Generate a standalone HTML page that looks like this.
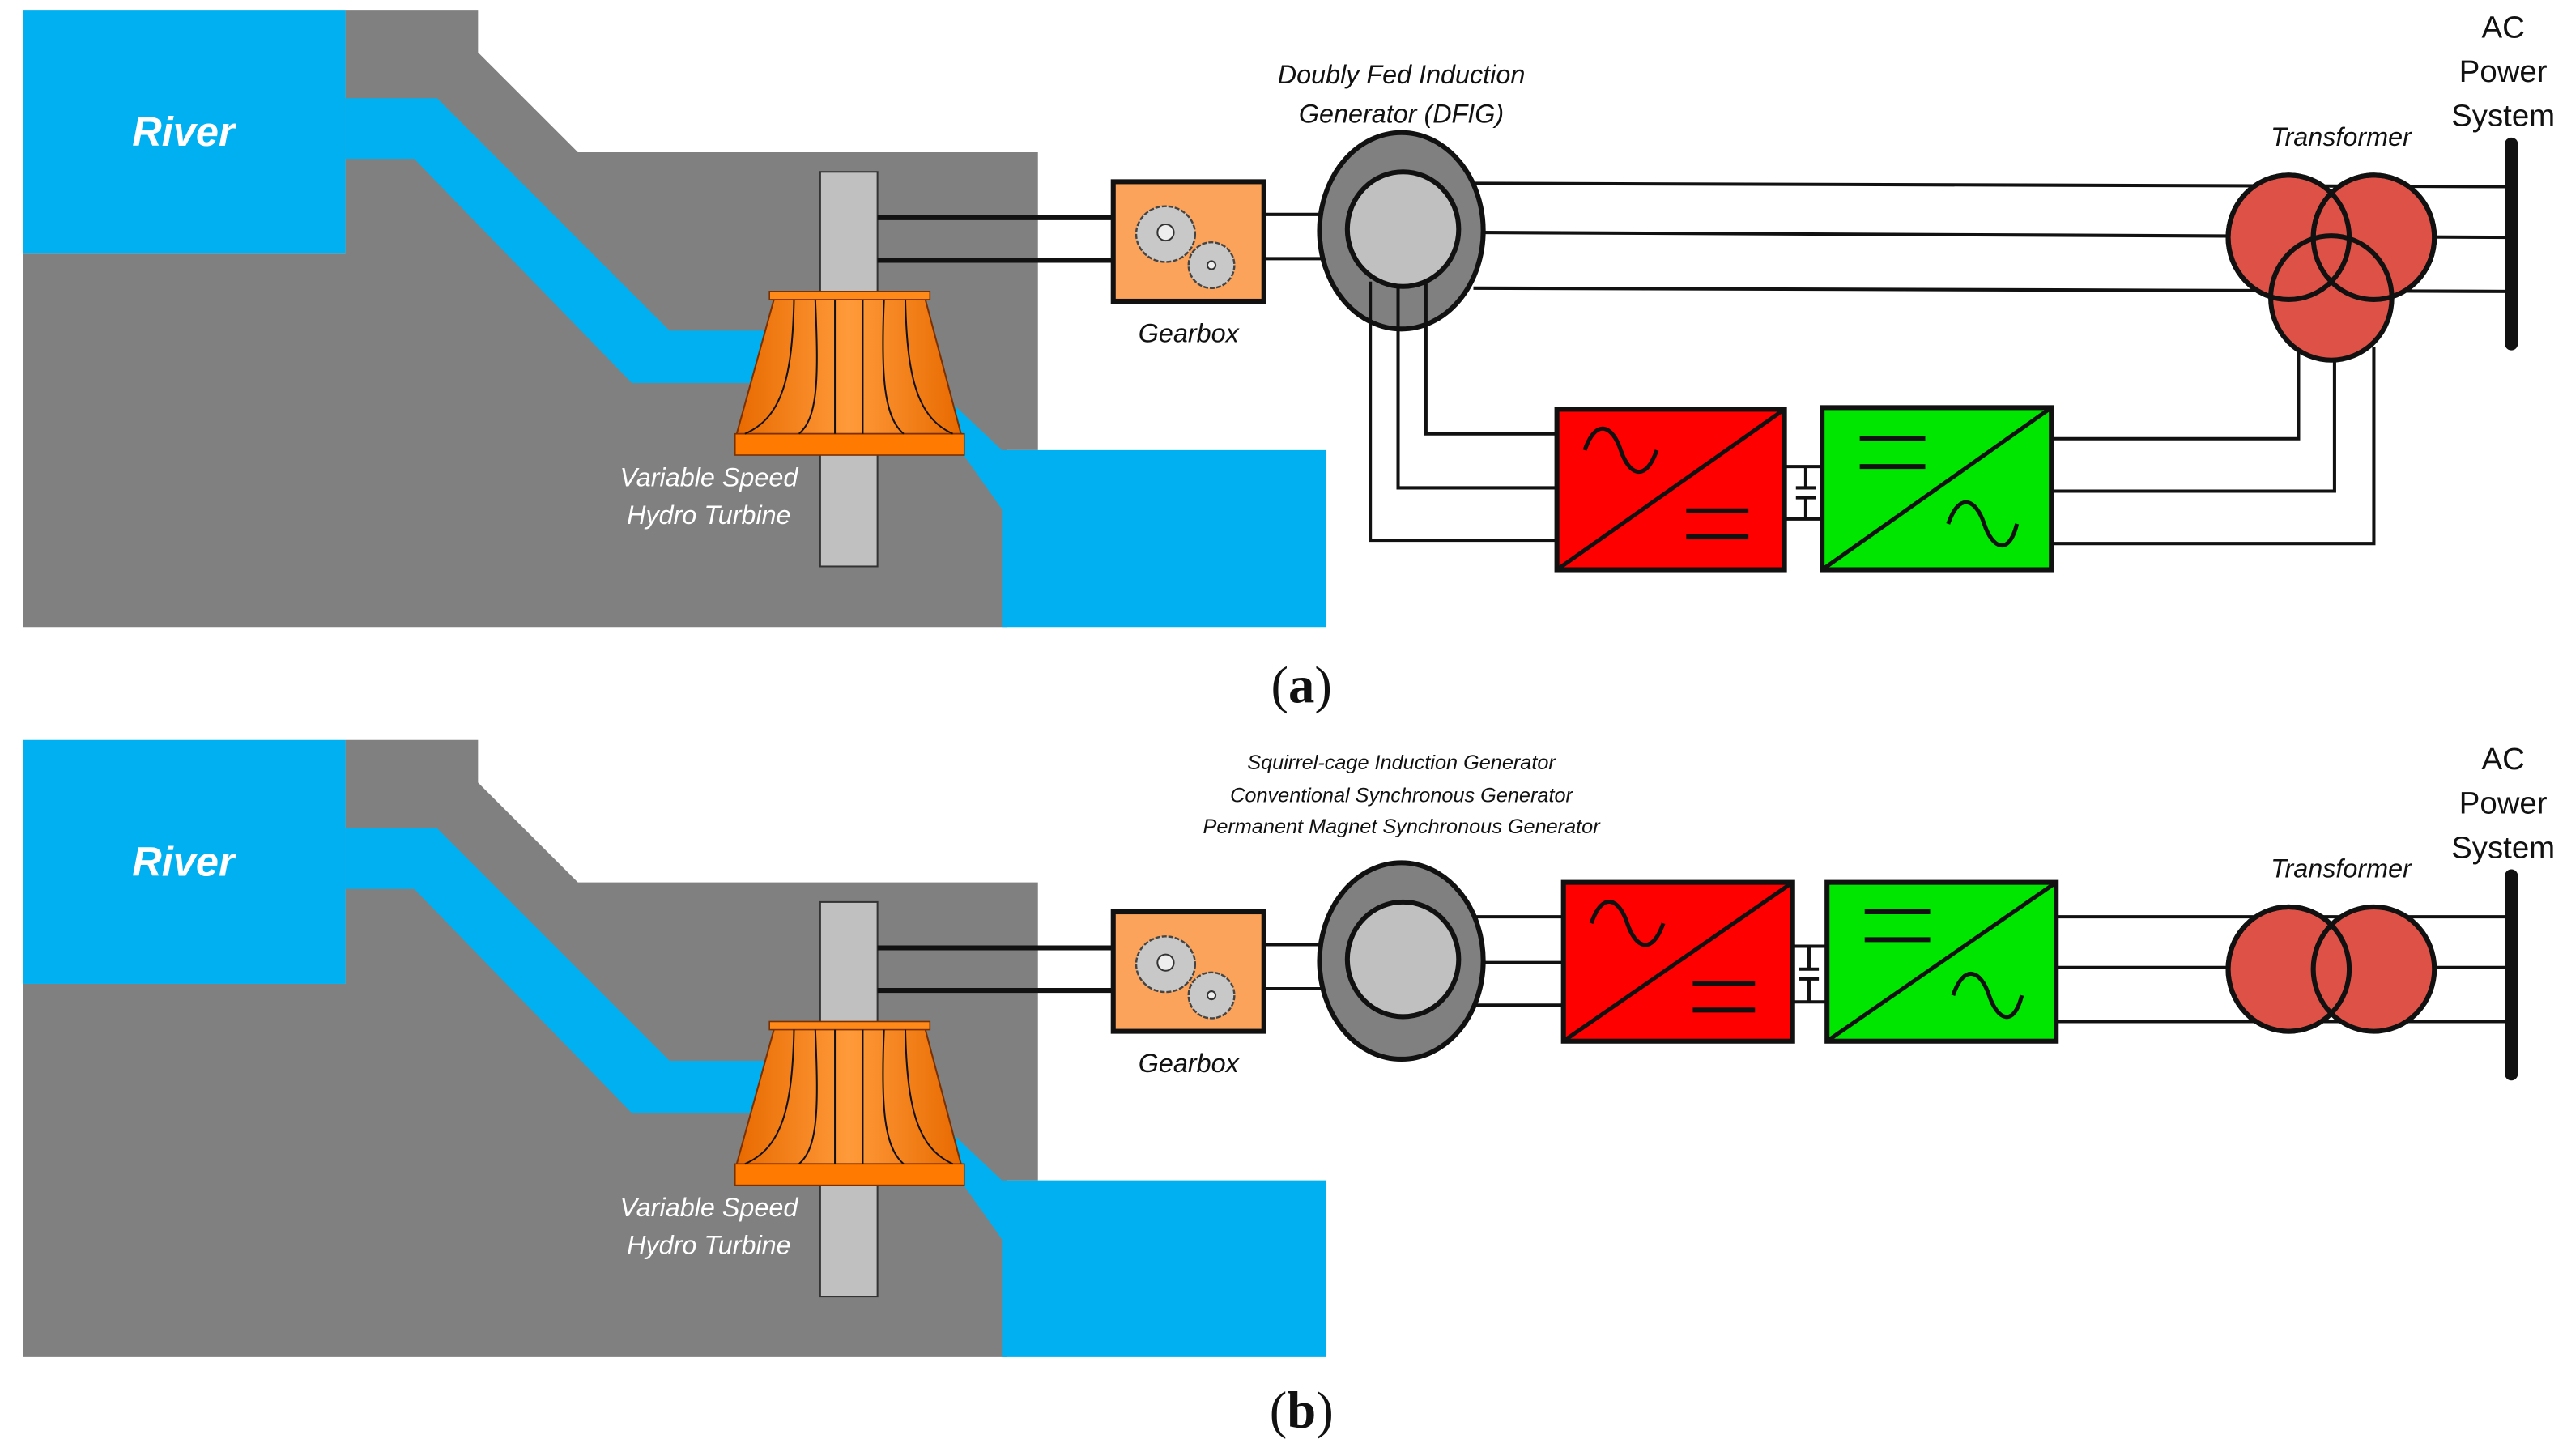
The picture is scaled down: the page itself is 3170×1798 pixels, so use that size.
<!DOCTYPE html>
<html><head><meta charset="utf-8"><style>
html,body{margin:0;padding:0;background:#fff;}
svg{display:block;}
.s{font-family:"Liberation Sans",sans-serif;}
.r{font-family:"Liberation Serif",serif;}
</style></head><body>
<svg width="3170" height="1798" viewBox="0 0 1568 889.4" preserveAspectRatio="none" xmlns="http://www.w3.org/2000/svg">
<defs>
<linearGradient id="og" x1="0" x2="1">
<stop offset="0" stop-color="#e86a00"/><stop offset="0.5" stop-color="#ff9a3a"/><stop offset="1" stop-color="#e86a00"/>
</linearGradient>
<g id="hydro">
<polygon points="211,6 292,6 292,32 353,93 634,93 634,275 615,275 615,383 14,383 14,155 211,155" fill="#808080"/>
<rect x="14" y="6" width="197" height="149" fill="#00b0f0"/>
<polygon points="211,60 267,60 409,202 480,202 480,234 386,234 253,97 211,97" fill="#00b0f0"/>
<polygon points="575,240 612,275 810,275 810,383 612,383 612,311 583,270" fill="#00b0f0"/>
<rect x="501" y="105" width="35" height="241" fill="#c0c0c0" stroke="#333" stroke-width="1"/>
<line x1="536" y1="133" x2="680" y2="133" stroke="#111" stroke-width="3"/>
<line x1="536" y1="159" x2="680" y2="159" stroke="#111" stroke-width="3"/>
<polygon points="473,182 565,182 587,265 450,265" fill="url(#og)" stroke="#7a3000" stroke-width="1"/>
<rect x="470" y="178" width="98" height="5" fill="#ff8a1a" stroke="#7a3000" stroke-width="0.8"/>
<rect x="449" y="265" width="140" height="13" fill="#ff7a00" stroke="#7a3000" stroke-width="0.8"/>
<g fill="none" stroke="#111" stroke-width="1">
<path d="M485,183 C484,230 478,255 455,265"/>
<path d="M498,183 C500,230 500,255 488,265"/>
<path d="M510,183 L510,265"/>
<path d="M527,183 L527,265"/>
<path d="M540,183 C538,230 540,255 552,265"/>
<path d="M553,183 C554,230 560,255 582,265"/>
</g>
<rect x="680" y="111" width="92" height="73" fill="#fba35a" stroke="#111" stroke-width="3"/>
<ellipse cx="712" cy="143" rx="18" ry="17" fill="#c8c8c8" stroke="#444" stroke-width="1.2" stroke-dasharray="3,1"/>
<circle cx="712" cy="142" r="5" fill="#eee" stroke="#333"/>
<ellipse cx="740" cy="162" rx="14" ry="14" fill="#c8c8c8" stroke="#444" stroke-width="1.2" stroke-dasharray="3,1"/>
<circle cx="740" cy="162" r="2.5" fill="#eee" stroke="#333"/>
<line x1="772" y1="131" x2="825" y2="131" stroke="#111" stroke-width="2"/>
<line x1="772" y1="158" x2="825" y2="158" stroke="#111" stroke-width="2"/>
</g>
</defs>

<!-- Panel a -->
<use href="#hydro"/>
<g class="s">
<text x="112" y="89" font-size="25" font-weight="bold" font-style="italic" fill="#fff" text-anchor="middle">River</text>
<text x="433" y="297" font-size="16" font-style="italic" fill="#fff" text-anchor="middle">Variable Speed</text>
<text x="433" y="320" font-size="16" font-style="italic" fill="#fff" text-anchor="middle">Hydro Turbine</text>
<text x="726" y="209" font-size="16" font-style="italic" fill="#111" text-anchor="middle">Gearbox</text>
<text x="856" y="51" font-size="16" font-style="italic" fill="#111" text-anchor="middle">Doubly Fed Induction</text>
<text x="856" y="75" font-size="16" font-style="italic" fill="#111" text-anchor="middle">Generator (DFIG)</text>
<text x="1430" y="89" font-size="16" font-style="italic" fill="#111" text-anchor="middle">Transformer</text>
<text x="1529" y="23" font-size="19" fill="#111" text-anchor="middle">AC</text>
<text x="1529" y="50" font-size="19" fill="#111" text-anchor="middle">Power</text>
<text x="1529" y="77" font-size="19" fill="#111" text-anchor="middle">System</text>
</g>
<g stroke="#111" fill="none" stroke-width="2">
<line x1="900" y1="112" x2="1534" y2="114"/>
<line x1="905" y1="142" x2="1534" y2="145"/>
<line x1="900" y1="176" x2="1534" y2="178"/>
<polyline points="871,175 871,265 951,265"/>
<polyline points="854,175 854,298 951,298"/>
<polyline points="837,175 837,330 951,330"/>
<polyline points="1253,268 1404,268 1404,215"/>
<polyline points="1253,300 1426,300 1426,220"/>
<polyline points="1253,332 1450,332 1450,212"/>
<line x1="1090" y1="285" x2="1113" y2="285"/>
<line x1="1090" y1="317" x2="1113" y2="317"/>
<line x1="1103" y1="285" x2="1103" y2="298"/>
<line x1="1103" y1="304" x2="1103" y2="317"/>
<line x1="1097" y1="298" x2="1109" y2="298"/>
<line x1="1097" y1="304" x2="1109" y2="304"/>
</g>
<ellipse cx="856" cy="141" rx="50" ry="60" fill="#808080" stroke="#111" stroke-width="3"/>
<ellipse cx="857" cy="140" rx="34" ry="35" fill="#c0c0c0" stroke="#111" stroke-width="3"/>
<g stroke="#111" stroke-width="2"><line x1="837" y1="172" x2="837" y2="198"/><line x1="854" y1="175" x2="854" y2="201"/><line x1="871" y1="172" x2="871" y2="198"/></g>
<g fill="#de5147" stroke="#111" stroke-width="3">
<ellipse cx="1398" cy="145" rx="37" ry="38"/>
<ellipse cx="1450" cy="145" rx="37" ry="38"/>
<ellipse cx="1424" cy="182" rx="37" ry="38"/>
</g>
<g fill="none" stroke="#111" stroke-width="3">
<ellipse cx="1398" cy="145" rx="37" ry="38"/>
<ellipse cx="1450" cy="145" rx="37" ry="38"/>
</g>
<line x1="1534" y1="88" x2="1534" y2="210" stroke="#111" stroke-width="8" stroke-linecap="round"/>
<rect x="951" y="250" width="139" height="98" fill="#ff0000" stroke="#111" stroke-width="3"/>
<line x1="951" y1="348" x2="1090" y2="250" stroke="#111" stroke-width="2.5"/>
<path d="M968,275 C975,255 985,260 990,275 S1005,295 1012,275" fill="none" stroke="#111" stroke-width="2.5"/>
<line x1="1030" y1="312" x2="1068" y2="312" stroke="#111" stroke-width="3"/>
<line x1="1030" y1="328" x2="1068" y2="328" stroke="#111" stroke-width="3"/>
<rect x="1113" y="249" width="140" height="99" fill="#00e600" stroke="#111" stroke-width="3"/>
<line x1="1113" y1="348" x2="1253" y2="249" stroke="#111" stroke-width="2.5"/>
<line x1="1136" y1="268" x2="1176" y2="268" stroke="#111" stroke-width="3"/>
<line x1="1136" y1="285" x2="1176" y2="285" stroke="#111" stroke-width="3"/>
<path d="M1190,320 C1197,300 1207,305 1212,320 S1227,340 1232,320" fill="none" stroke="#111" stroke-width="2.5"/>
<text class="r" x="795" y="429" font-size="32" fill="#111" text-anchor="middle">(<tspan font-weight="bold">a</tspan>)</text>

<!-- Panel b -->
<use href="#hydro" transform="translate(0,446)"/>
<g class="s">
<text x="112" y="535" font-size="25" font-weight="bold" font-style="italic" fill="#fff" text-anchor="middle">River</text>
<text x="433" y="743" font-size="16" font-style="italic" fill="#fff" text-anchor="middle">Variable Speed</text>
<text x="433" y="766" font-size="16" font-style="italic" fill="#fff" text-anchor="middle">Hydro Turbine</text>
<text x="726" y="655" font-size="16" font-style="italic" fill="#111" text-anchor="middle">Gearbox</text>
<text x="856" y="470" font-size="12.5" font-style="italic" fill="#111" text-anchor="middle">Squirrel-cage Induction Generator</text>
<text x="856" y="490" font-size="12.5" font-style="italic" fill="#111" text-anchor="middle">Conventional Synchronous Generator</text>
<text x="856" y="509" font-size="12.5" font-style="italic" fill="#111" text-anchor="middle">Permanent Magnet Synchronous Generator</text>
<text x="1430" y="536" font-size="16" font-style="italic" fill="#111" text-anchor="middle">Transformer</text>
<text x="1529" y="470" font-size="19" fill="#111" text-anchor="middle">AC</text>
<text x="1529" y="497" font-size="19" fill="#111" text-anchor="middle">Power</text>
<text x="1529" y="524" font-size="19" fill="#111" text-anchor="middle">System</text>
</g>
<g stroke="#111" fill="none" stroke-width="2">
<line x1="900" y1="560" x2="955" y2="560"/>
<line x1="905" y1="588" x2="955" y2="588"/>
<line x1="900" y1="614" x2="955" y2="614"/>
<line x1="1256" y1="560" x2="1534" y2="560"/>
<line x1="1256" y1="591" x2="1534" y2="591"/>
<line x1="1256" y1="624" x2="1534" y2="624"/>
<line x1="1095" y1="578" x2="1116" y2="578"/>
<line x1="1095" y1="612" x2="1116" y2="612"/>
<line x1="1105" y1="578" x2="1105" y2="592"/>
<line x1="1105" y1="598" x2="1105" y2="612"/>
<line x1="1099" y1="592" x2="1111" y2="592"/>
<line x1="1099" y1="598" x2="1111" y2="598"/>
</g>
<ellipse cx="856" cy="587" rx="50" ry="60" fill="#808080" stroke="#111" stroke-width="3"/>
<ellipse cx="857" cy="586" rx="34" ry="35" fill="#c0c0c0" stroke="#111" stroke-width="3"/>
<g fill="#de5147" stroke="#111" stroke-width="3">
<ellipse cx="1398" cy="592" rx="37" ry="38"/>
<ellipse cx="1450" cy="592" rx="37" ry="38"/>
</g>
<ellipse cx="1398" cy="592" rx="37" ry="38" fill="none" stroke="#111" stroke-width="3"/>
<line x1="1534" y1="535" x2="1534" y2="656" stroke="#111" stroke-width="8" stroke-linecap="round"/>
<rect x="955" y="539" width="140" height="97" fill="#ff0000" stroke="#111" stroke-width="3"/>
<line x1="955" y1="636" x2="1095" y2="539" stroke="#111" stroke-width="2.5"/>
<path d="M972,564 C979,544 989,549 994,564 S1009,584 1016,564" fill="none" stroke="#111" stroke-width="2.5"/>
<line x1="1034" y1="601" x2="1072" y2="601" stroke="#111" stroke-width="3"/>
<line x1="1034" y1="617" x2="1072" y2="617" stroke="#111" stroke-width="3"/>
<rect x="1116" y="539" width="140" height="97" fill="#00e600" stroke="#111" stroke-width="3"/>
<line x1="1116" y1="636" x2="1256" y2="539" stroke="#111" stroke-width="2.5"/>
<line x1="1139" y1="557" x2="1179" y2="557" stroke="#111" stroke-width="3"/>
<line x1="1139" y1="574" x2="1179" y2="574" stroke="#111" stroke-width="3"/>
<path d="M1193,608 C1200,588 1210,593 1215,608 S1230,628 1235,608" fill="none" stroke="#111" stroke-width="2.5"/>
<text class="r" x="795" y="872" font-size="32" fill="#111" text-anchor="middle">(<tspan font-weight="bold">b</tspan>)</text>
</svg>
</body></html>
